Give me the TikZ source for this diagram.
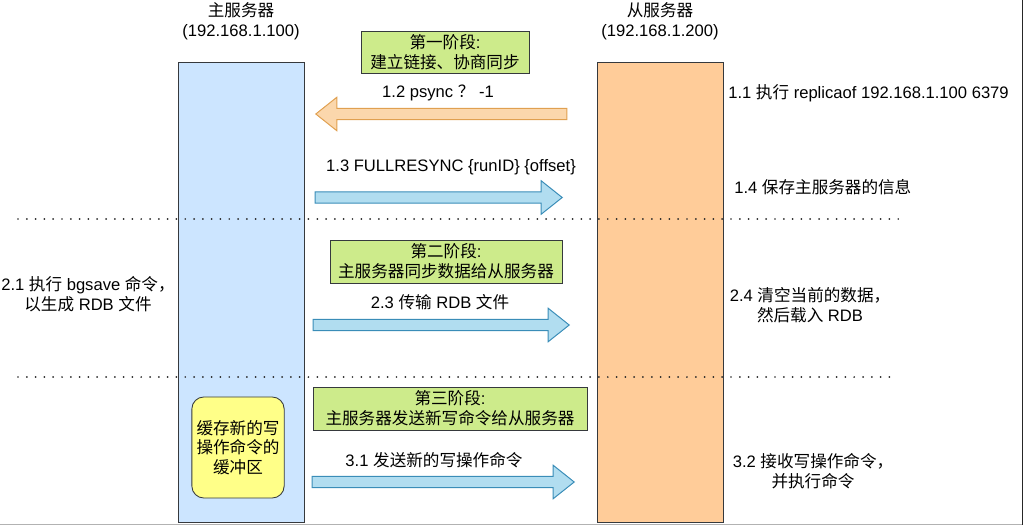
\documentclass[tikz,border=0pt]{standalone}
\usepackage{fontspec}
\setmainfont{Liberation Sans}
\newfontfamily\cjk{Noto Sans CJK SC}
\newcommand{\zh}[1]{{\cjk #1}}
\usetikzlibrary{positioning,shapes.arrows}

\definecolor{masterblue}{HTML}{CCE5FF}
\definecolor{slaveorange}{HTML}{FFCC99}
\definecolor{phasegreen}{HTML}{CDEB8B}
\definecolor{bufyellow}{HTML}{FFFF88}
\definecolor{boxline}{HTML}{36393D}
\definecolor{pushfill}{HTML}{B1DDF0}
\definecolor{pushline}{HTML}{3A8DB8}
\definecolor{askfill}{HTML}{FBD7AC}
\definecolor{askline}{HTML}{E0A050}

\tikzset{
  txt/.style={font=\fontsize{11.8}{14}\selectfont, align=center, inner sep=0pt},
  server/.style={draw=boxline, line width=0.6pt, minimum width=3.15cm, minimum height=11.5cm},
  phase/.style={draw=boxline, line width=0.6pt, fill=phasegreen, inner sep=0pt, align=center, font=\fontsize{11.8}{14}\selectfont},
  fat/.style={single arrow, line width=0.7pt, inner xsep=0pt, inner ysep=0.13cm, single arrow head extend=0.275cm, single arrow tip angle=77},
  push/.style={fat, draw=pushline, fill=pushfill},
  ask/.style={fat, draw=askline, fill=askfill, shape border rotate=180},
  sep/.style={line width=1.4pt, line cap=round, dash pattern=on 0pt off 0.22cm, black!85}
}

\begin{document}
\begin{tikzpicture}[x=0.025cm, y=-0.025cm]
    \useasboundingbox (0,0) rectangle (1023,525);

    % Serveurs (colonnes)
    \node[server, fill=masterblue] (master) at (241,292) {};
    \node[server, fill=slaveorange] (slave) at (660,292) {};
    \node[txt] (masterlbl) at (241,21) {\zh{主服务器}\\(192.168.1.100)};
    \node[txt] (slavelbl) at (660,21) {\zh{从服务器}\\(192.168.1.200)};

    % Phase 1
    \node[phase, minimum width=4.2cm, minimum height=1.05cm] (p1) at (445,52) {\zh{第一阶段}:\\\zh{建立链接、协商同步}};
    \node[ask, minimum height=6.275cm, anchor=tip] (a12) at (315,114) {};
    \node[txt] (l12) at (438,93) {1.2 psync \zh{？} -1};
    \node[push, minimum height=6.175cm, anchor=tip] (a13) at (563,197.5) {};
    \node[txt] (l13) at (451,167) {1.3 FULLRESYNC \{runID\} \{offset\}};
    \node[txt, anchor=west] (n11) at (728,93) {1.1 \zh{执行} replicaof 192.168.1.100 6379};
    \node[txt, anchor=west] (n14) at (734,187) {1.4 \zh{保存主服务器的信息}};

    % Phase 2
    \node[phase, minimum width=5.8cm, minimum height=1.075cm] (p2) at (446,261.5) {\zh{第二阶段}:\\\zh{主服务器同步数据给从服务器}};
    \node[push, minimum height=6.4cm, anchor=tip] (a23) at (570,325) {};
    \node[txt] (l23) at (440,302) {2.3 \zh{传输} RDB \zh{文件}};
    \node[txt] (n21) at (88,294) {2.1 \zh{执行} bgsave \zh{命令，}\\\zh{以生成} RDB \zh{文件}};
    \node[txt] (n24) at (810,305) {2.4 \zh{清空当前的数据，}\\\zh{然后载入} RDB};

    % Phase 3
    \node[phase, minimum width=6.85cm, minimum height=1.075cm] (p3) at (450,408.5) {\zh{第三阶段}:\\\zh{主服务器发送新写命令给从服务器}};
    \node[push, minimum height=6.55cm, anchor=tip] (a31) at (575,482) {};
    \node[txt] (l31) at (434,460) {3.1 \zh{发送新的写操作命令}};
    \node[draw=boxline, line width=0.6pt, fill=bufyellow, rounded corners=0.3cm, minimum width=2.25cm, minimum height=2.525cm, align=center, font=\fontsize{11.8}{14}\selectfont\cjk] (buf) at (238,447.5) {缓存新的写\\操作命令的\\缓冲区};
    \node[txt] (n32) at (813,471) {3.2 \zh{接收写操作命令，}\\\zh{并执行命令}};

    % Separations
    \coordinate (s1l) at (18,219);
    \coordinate (s1r) at (900,219);
    \coordinate (s2l) at (18,377);
    \coordinate (s2r) at (895,377);
    \draw[sep] (s1l) -- (s1r);
    \draw[sep] (s2l) -- (s2r);

    % Bords
    \draw[gray!60, line width=0.7pt] (0,524.5) -- (1023,524.5);
    \draw[black!85, line width=0.7pt] (1022.5,0) -- (1022.5,525);
\end{tikzpicture}
\end{document}
